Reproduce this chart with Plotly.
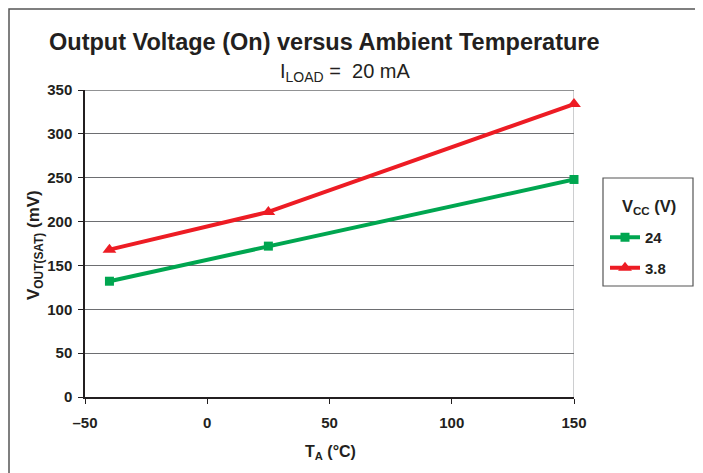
import plotly.graph_objects as go

temps = [-40, 25, 150]
v24 = [132, 172, 248]
v38 = [168, 211, 334]
x_ticks = [-50, 0, 50, 100, 150]
x_tick_labels = ["\u201350", "0", "50", "100", "150"]
y_ticks = [0, 50, 100, 150, 200, 250, 300, 350]

GREEN = "#00a650"
RED = "#ed1c24"
INK = "#231f20"
FONT = "Liberation Sans, Arial, sans-serif"

fig = go.Figure()
fig.add_trace(go.Scatter(x=temps, y=v24, name="<b>24</b>", mode="lines+markers", legendgroup="a",
                         cliponaxis=False,
                         line=dict(color=GREEN, width=4),
                         marker=dict(symbol="square", size=9, color=GREEN)))
fig.add_trace(go.Scatter(x=temps, y=v38, name="<b>3.8</b>", mode="lines+markers", legendgroup="b",
                         cliponaxis=False,
                         line=dict(color=RED, width=4),
                         marker=dict(symbol="triangle-up", size=12, color=RED)))

L, T, PW, PH = 77, 82, 489, 307
W, H = 703, 473

fig.update_layout(
    width=W, height=H,
    margin=dict(l=L, r=W - L - PW, t=T, b=H - T - PH),
    paper_bgcolor="white", plot_bgcolor="white",
    font=dict(family=FONT, color=INK),
    showlegend=True,
    legend=dict(
        font=dict(size=15, family=FONT, color=INK),
        x=(597 - L) / PW, xanchor="left", y=1 - (213 - T) / PH, yanchor="top",
        borderwidth=0, bgcolor="rgba(0,0,0,0)",
        itemwidth=30, tracegroupgap=8,
    ),
    xaxis=dict(
        range=[-50, 150], tickvals=x_ticks, ticktext=["<b>%s</b>" % t for t in x_tick_labels],
        showgrid=False, zeroline=False,
        showline=True, linecolor=INK, linewidth=1.5,
        ticks="outside", ticklen=5, tickcolor=INK, ticklabelstandoff=6,
        tickfont=dict(size=15, family=FONT, color=INK),
    ),
    yaxis=dict(
        range=[0, 350], tickvals=y_ticks, ticktext=["<b>%d</b>" % v for v in y_ticks],
        showgrid=True, gridcolor="#6d6e71", gridwidth=1.3, zeroline=False,
        showline=True, linecolor=INK, linewidth=1.5,
        ticks="outside", ticklen=5, tickcolor=INK, ticklabelstandoff=3,
        tickfont=dict(size=15, family=FONT, color=INK),
    ),
    annotations=[
        dict(text="<b>Output Voltage (On) versus Ambient Temperature</b>", xref="paper", yref="paper",
             x=(316 - L) / PW, y=1.0, yshift=48, xanchor="center", yanchor="middle", showarrow=False,
             font=dict(size=23.5, family=FONT, color=INK)),
        dict(text="I<sub>LOAD</sub> =  20 mA", xref="paper", yref="paper",
             x=(337 - L) / PW, y=1.0, yshift=18, xanchor="center", yanchor="middle", showarrow=False,
             font=dict(size=20, family=FONT, color=INK)),
        dict(text="<b>T<sub>A</sub> (°C)</b>", xref="paper", yref="paper",
             x=(322 - L) / PW, y=0, yshift=-55, xanchor="center", yanchor="middle", showarrow=False,
             font=dict(size=16, family=FONT, color=INK)),
        dict(text="<b>V<sub>OUT(SAT)</sub> (mV)</b>", xref="paper", yref="paper",
             x=0, xshift=-(L - 27), y=1 - (237 - T) / PH, xanchor="center", yanchor="middle",
             showarrow=False, textangle=-90,
             font=dict(size=17, family=FONT, color=INK)),
        dict(text="<b>V<sub>CC</sub> (V)</b>", xref="paper", yref="paper",
             x=(641 - L) / PW, y=1 - (199 - T) / PH, xanchor="center", yanchor="middle",
             showarrow=False, font=dict(size=16.5, family=FONT, color=INK)),
    ],
    shapes=[
        dict(type="line", xref="x", yref="paper", x0=150, x1=150, y0=0, y1=1,
             line=dict(color="#bcbec0", width=1.5), layer="below"),
        dict(type="line", xref="paper", yref="y", x0=0, x1=1, y0=350, y1=350,
             line=dict(color="#6d6e71", width=1.3), layer="below"),
        dict(type="rect", xref="paper", yref="paper",
             x0=(595 - L) / PW, x1=(685 - L) / PW, y0=1 - (278 - T) / PH, y1=1 - (170 - T) / PH,
             line=dict(color="#555555", width=1.2)),
        dict(type="rect", xref="paper", yref="paper", x0=(1 - L) / PW, x1=1.5,
             y0=-0.5, y1=1 + (T - 1) / PH,
             line=dict(color="#555555", width=1.5)),
    ],
)
fig.write_html("out.html")
